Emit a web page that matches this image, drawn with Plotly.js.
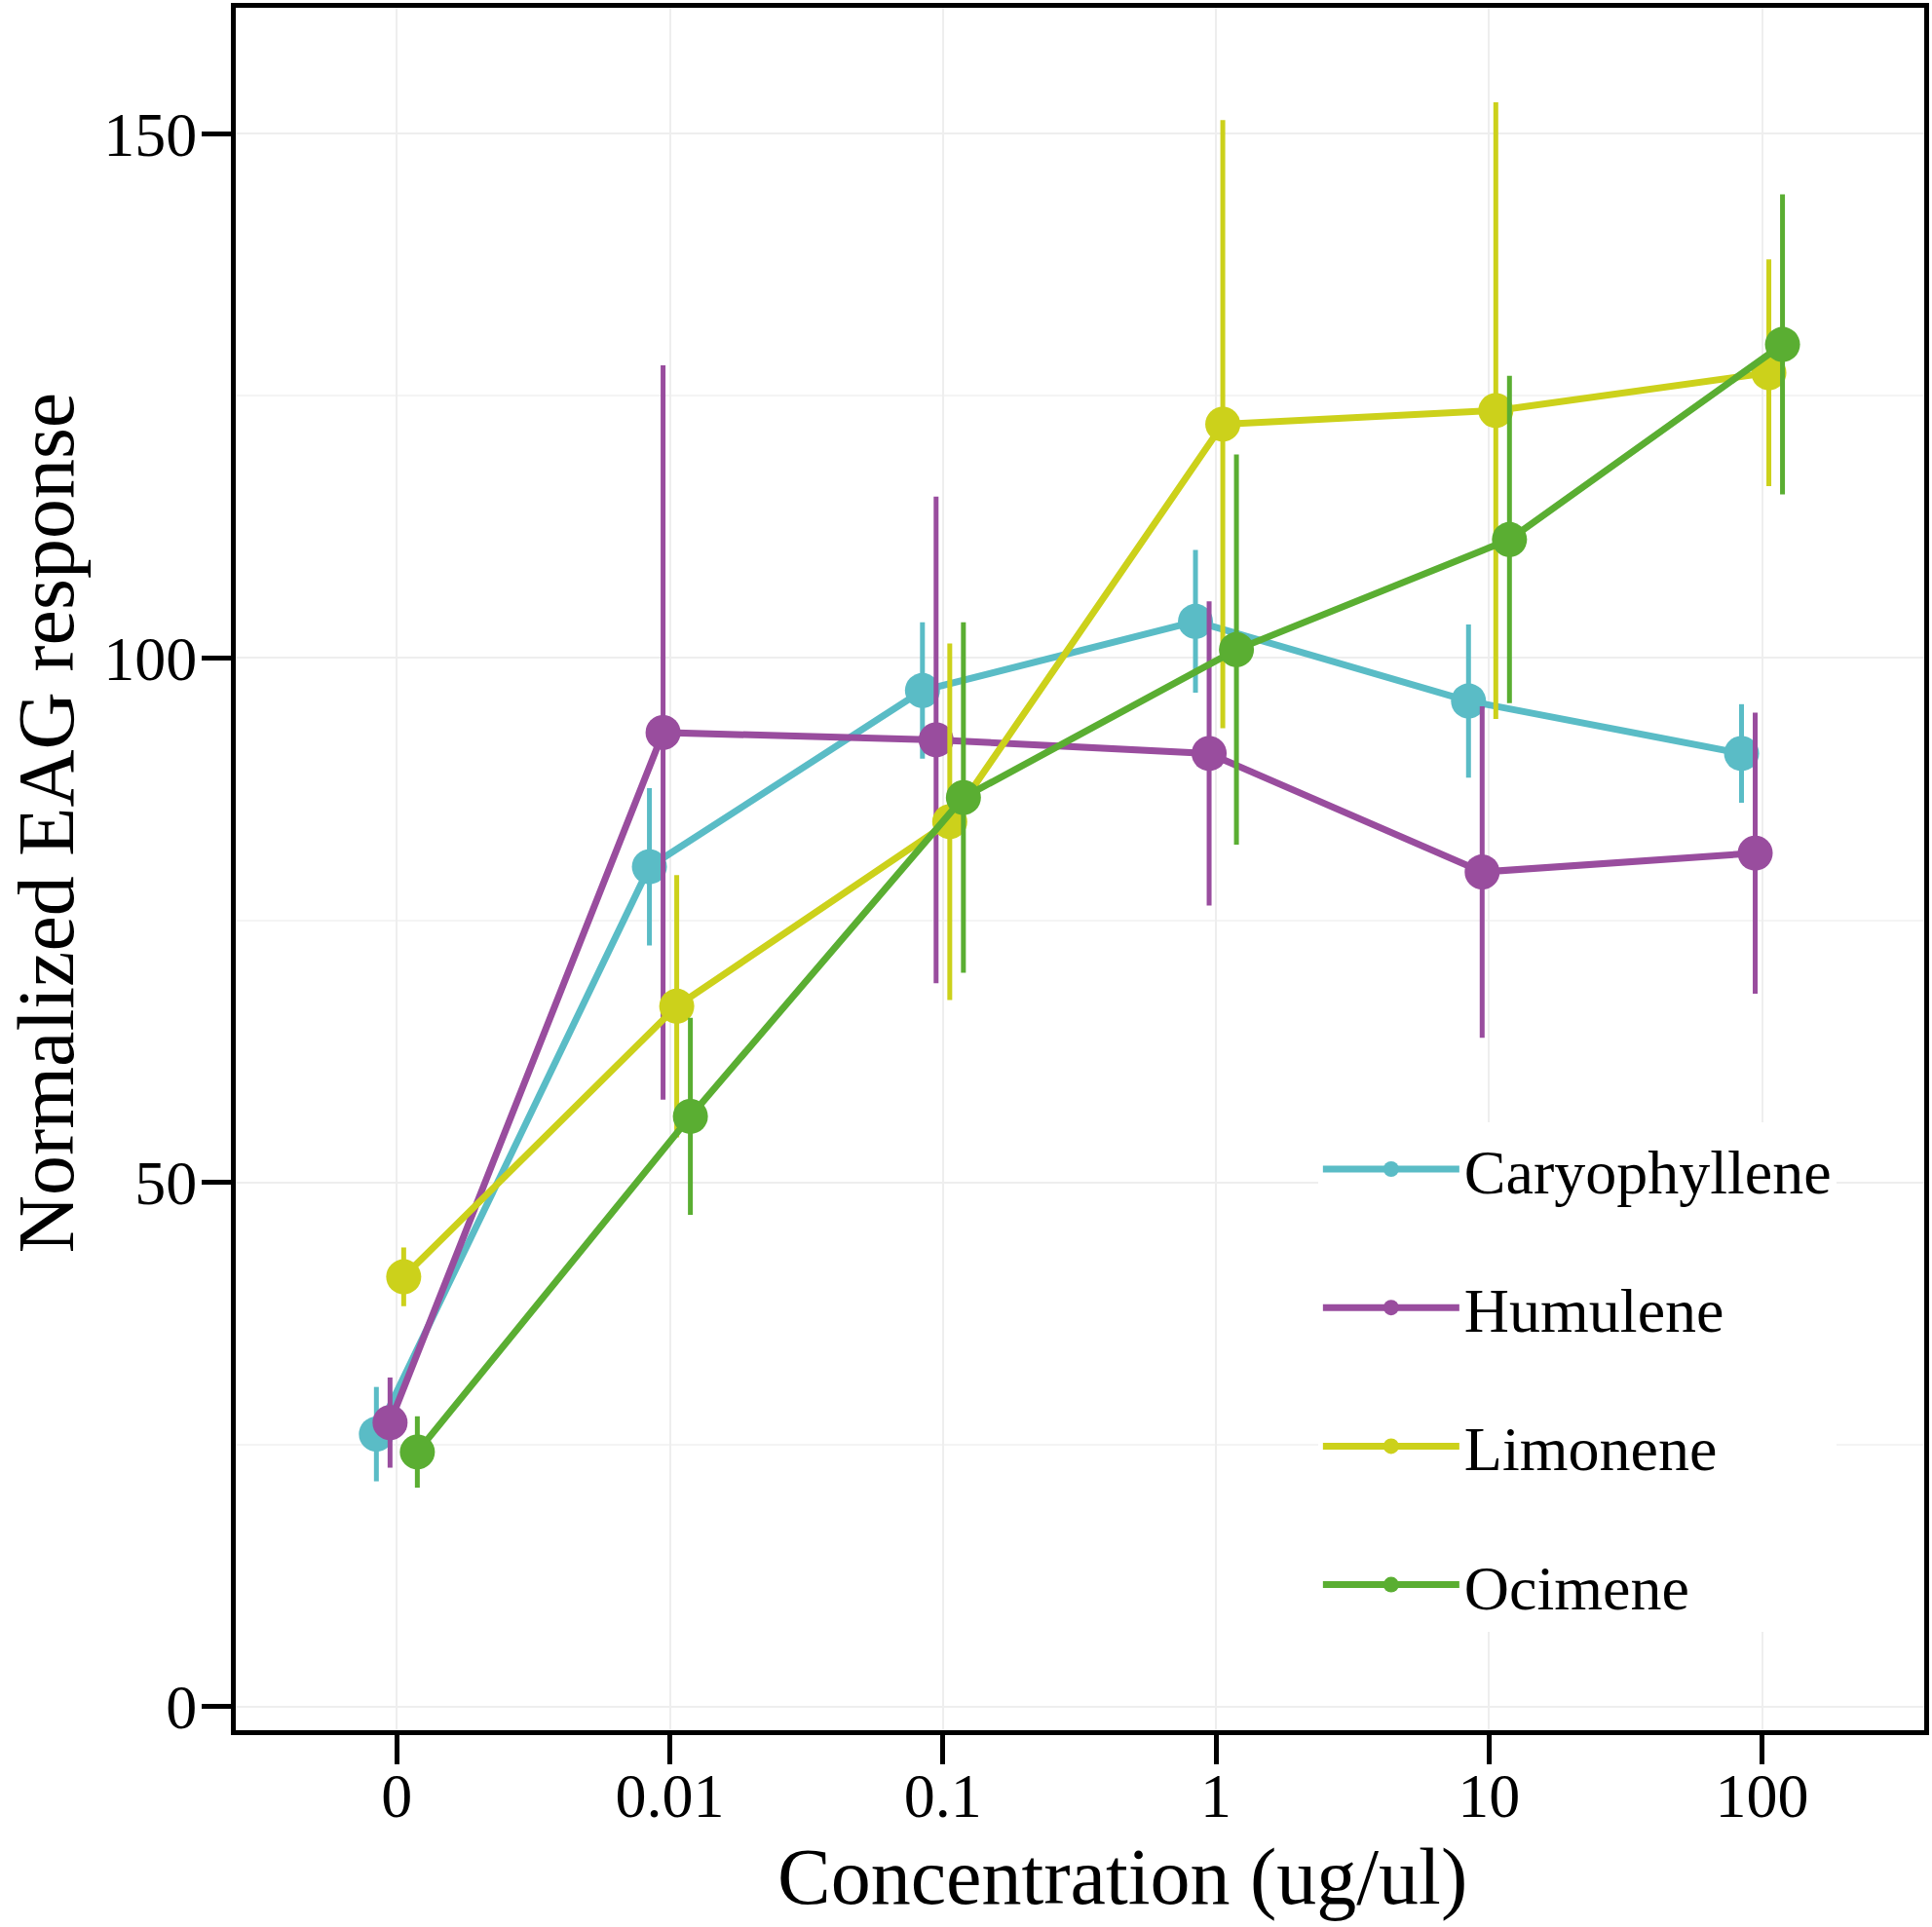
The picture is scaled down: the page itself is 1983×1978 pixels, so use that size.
<!DOCTYPE html>
<html>
<head>
<meta charset="utf-8">
<script src="https://cdn.plot.ly/plotly-3.0.1.min.js"></script>
<style>html,body{margin:0;padding:0;background:#fff;}</style>
</head>
<body>
<div id="chart" style="width:1983px;height:1978px;"></div>
<script>
// ---- data ----
const categories = ["0", "0.01", "0.1", "1", "10", "100"];
const seriesNames = ["Caryophyllene", "Humulene", "Limonene", "Ocimene"];
const caryophylleneMean = [26.0, 80.1, 96.9, 103.5, 95.9, 90.9];
const caryophylleneErr  = [4.5, 7.5, 6.5, 6.8, 7.3, 4.7];
const humuleneMean = [27.1, 92.9, 92.2, 90.9, 79.6, 81.4];
const humuleneErr  = [4.3, 35.0, 23.2, 14.5, 15.8, 13.4];
const limoneneMean = [41.0, 66.8, 84.4, 122.3, 123.6, 127.2];
const limoneneErr  = [2.8, 12.5, 17.0, 29.0, 29.4, 10.8];
const ocimeneMean = [24.3, 56.3, 86.7, 100.8, 111.3, 129.9];
const ocimeneErr  = [3.4, 9.4, 16.7, 18.6, 15.6, 14.3];
const yTickVals = [0, 50, 100, 150];
const xTitle = "Concentration (ug/ul)";
const yTitle = "Normalized EAG response";

// ---- styling ----
const colors = ["#5ABCC6", "#994D9E", "#CCD11B", "#5AAE32"];
const dodge = [-0.075, -0.025, 0.025, 0.075];
const means = [caryophylleneMean, humuleneMean, limoneneMean, ocimeneMean];
const errs = [caryophylleneErr, humuleneErr, limoneneErr, ocimeneErr];
const FONT = "Liberation Serif, Times New Roman, serif";

const traces = seriesNames.map((name, s) => ({
  type: "scatter",
  mode: "lines+markers",
  name: name,
  legendgroup: name,
  x: categories.map((c, i) => i + dodge[s]),
  y: means[s],
  error_y: { type: "data", array: errs[s], visible: true, color: colors[s], thickness: 5, width: 0 },
  line: { color: colors[s], width: 7 },
  marker: { color: colors[s], size: 36 },
  cliponaxis: false
}));

const layout = {
  width: 1983,
  height: 1978,
  margin: { l: 242, r: 8, t: 8, b: 202, pad: 0 },
  paper_bgcolor: "#ffffff",
  plot_bgcolor: "#ffffff",
  font: { family: FONT, color: "#000000", size: 64 },
  showlegend: true,
  legend: {
    x: 0.641, y: 0.353, xanchor: "left", yanchor: "top",
    bgcolor: "#ffffff", borderwidth: 0,
    font: { family: FONT, size: 64, color: "#000000" },
    itemwidth: 140,
    tracegroupgap: 56,
    traceorder: "grouped"
  },
  xaxis: {
    range: [-0.59, 5.594],
    tickmode: "array",
    tickvals: categories.map((c, i) => i),
    ticktext: categories,
    showline: true, mirror: true, linewidth: 5, linecolor: "#000000",
    ticks: "outside", ticklen: 30, tickwidth: 5, tickcolor: "#000000",
    ticklabelstandoff: -23,
    tickfont: { family: FONT, size: 64, color: "#000000" },
    showgrid: true, gridcolor: "#EEEEEE", gridwidth: 2,
    zeroline: false
  },
  yaxis: {
    range: [-2.23, 162.0],
    tickmode: "array",
    tickvals: yTickVals,
    showline: true, mirror: true, linewidth: 5, linecolor: "#000000",
    ticks: "outside", ticklen: 30, tickwidth: 5, tickcolor: "#000000",
    ticklabelstandoff: -8,
    tickfont: { family: FONT, size: 64, color: "#000000" },
    showgrid: true, gridcolor: "#EEEEEE", gridwidth: 2,
    minor: { dtick: 25, tick0: 0, showgrid: true, gridcolor: "#F4F4F4", gridwidth: 2, ticks: "" },
    zeroline: false
  },
  annotations: [
    { text: xTitle, xref: "paper", yref: "paper", x: 0.5251, y: 0, xanchor: "center", yanchor: "middle",
      yshift: -150, showarrow: false, font: { family: FONT, size: 82, color: "#000000" } },
    { text: yTitle, xref: "paper", yref: "paper", x: 0, y: 0.527, xanchor: "center", yanchor: "middle",
      xshift: -195, textangle: -90, showarrow: false, font: { family: FONT, size: 82, color: "#000000" } }
  ]
};

Plotly.newPlot("chart", traces, layout, { displayModeBar: false, staticPlot: true });
</script>
</body>
</html>
